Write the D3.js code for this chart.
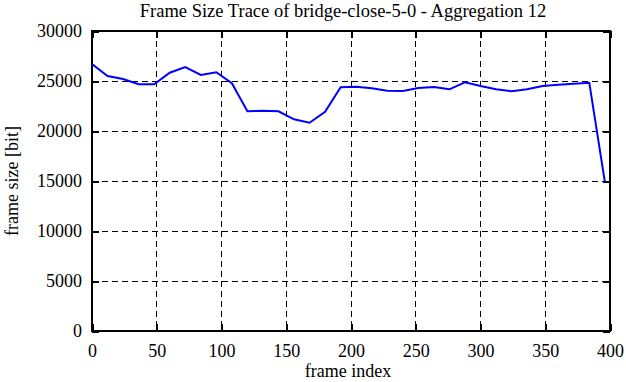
<!DOCTYPE html>
<html>
<head>
<meta charset="utf-8">
<script src="https://cdn.jsdelivr.net/npm/d3@7"></script>
<style>
  body { margin: 0; background: #fff; }
  text { font-family: "Liberation Serif", "Times New Roman", serif; fill: #000; }
</style>
</head>
<body>
<div id="container"></div>
<script>
/* DATA */
const frames = [0, 12, 24, 36, 48, 60, 72, 84, 96, 108, 120, 132, 144, 156, 168, 180,
  192, 204, 216, 228, 240, 252, 264, 276, 288, 300, 312, 324, 336, 348, 360, 372, 384, 396];
const sizes = [26700, 25500, 25200, 24670, 24670, 25830, 26400, 25600, 25870, 24770, 21970, 22030,
  21970, 21170, 20830, 21930, 24370, 24430, 24270, 24030, 24000, 24300, 24400, 24170, 24870,
  24500, 24170, 23970, 24170, 24500, 24630, 24730, 24830, 14930];
const xTicks = [0, 50, 100, 150, 200, 250, 300, 350, 400];
const yTicks = [0, 5000, 10000, 15000, 20000, 25000, 30000];

/* CONSTANTS */
const width = 626, height = 382;
const plotLeft = 92, plotRight = 610, plotTop = 31, plotBottom = 331;
const serif = "'Liberation Serif', 'Times New Roman', serif";

const svg = d3.select("#container")
  .append("svg")
  .attr("width", width)
  .attr("height", height);

/* SCALES */
const xScale = d3.scaleLinear().domain([0, 400]).range([plotLeft, plotRight]);
const yScale = d3.scaleLinear().domain([0, 30000]).range([plotBottom, plotTop]);

/* GRID */
svg.append("g")
  .attr("shape-rendering", "crispEdges")
  .selectAll("line")
  .data(xTicks.slice(1, -1))
  .join("line")
  .attr("x1", d => xScale(d)).attr("x2", d => xScale(d))
  .attr("y1", plotTop).attr("y2", plotBottom)
  .attr("stroke", "#000").attr("stroke-width", 1)
  .attr("stroke-dasharray", "6,4");

svg.append("g")
  .attr("shape-rendering", "crispEdges")
  .selectAll("line")
  .data(yTicks.slice(1, -1))
  .join("line")
  .attr("x1", plotLeft).attr("x2", plotRight)
  .attr("y1", d => yScale(d)).attr("y2", d => yScale(d))
  .attr("stroke", "#000").attr("stroke-width", 1)
  .attr("stroke-dasharray", "6,4");

/* AXES (ticks pointing inward on all four sides) */
const xAxis = svg.append("g")
  .attr("transform", `translate(0, ${plotBottom})`)
  .call(d3.axisBottom(xScale).tickValues(xTicks).tickSize(-7).tickPadding(13).tickFormat(d3.format("d")));
const xTop = svg.append("g")
  .attr("transform", `translate(0, ${plotTop})`)
  .call(d3.axisTop(xScale).tickValues(xTicks).tickSize(-7).tickFormat(""));
const yAxis = svg.append("g")
  .attr("transform", `translate(${plotLeft}, 0)`)
  .call(d3.axisLeft(yScale).tickValues(yTicks).tickSize(-7).tickPadding(10).tickFormat(d3.format("d")));
const yRight = svg.append("g")
  .attr("transform", `translate(${plotRight}, 0)`)
  .call(d3.axisRight(yScale).tickValues(yTicks).tickSize(-7).tickFormat(""));

[xAxis, xTop, yAxis, yRight].forEach(g => {
  g.attr("font-family", serif).attr("font-size", 18);
  g.select(".domain").remove();
  g.selectAll(".tick line").attr("stroke", "#000").attr("stroke-width", 2)
    .attr("shape-rendering", "crispEdges");
  g.selectAll("text").attr("fill", "#000");
});

/* FRAME */
svg.append("rect")
  .attr("x", plotLeft).attr("y", plotTop)
  .attr("width", plotRight - plotLeft).attr("height", plotBottom - plotTop)
  .attr("fill", "none").attr("stroke", "#000").attr("stroke-width", 2);

/* LINE */
const line = d3.line()
  .x((d, i) => xScale(frames[i]))
  .y(d => yScale(d));

svg.append("path")
  .datum(sizes)
  .attr("d", line)
  .attr("fill", "none")
  .attr("stroke", "#0000ff")
  .attr("stroke-width", 2);

/* LABELS */
svg.append("text")
  .attr("x", 343).attr("y", 17)
  .attr("text-anchor", "middle")
  .attr("font-size", 18.5)
  .text("Frame Size Trace of bridge-close-5-0 - Aggregation 12");

svg.append("text")
  .attr("x", (plotLeft + plotRight) / 2 - 3).attr("y", 377)
  .attr("text-anchor", "middle")
  .attr("font-size", 18)
  .text("frame index");

svg.append("text")
  .attr("transform", `translate(18, ${(plotTop + plotBottom) / 2}) rotate(-90)`)
  .attr("text-anchor", "middle")
  .attr("font-size", 18)
  .text("frame size [bit]");
</script>
</body>
</html>
